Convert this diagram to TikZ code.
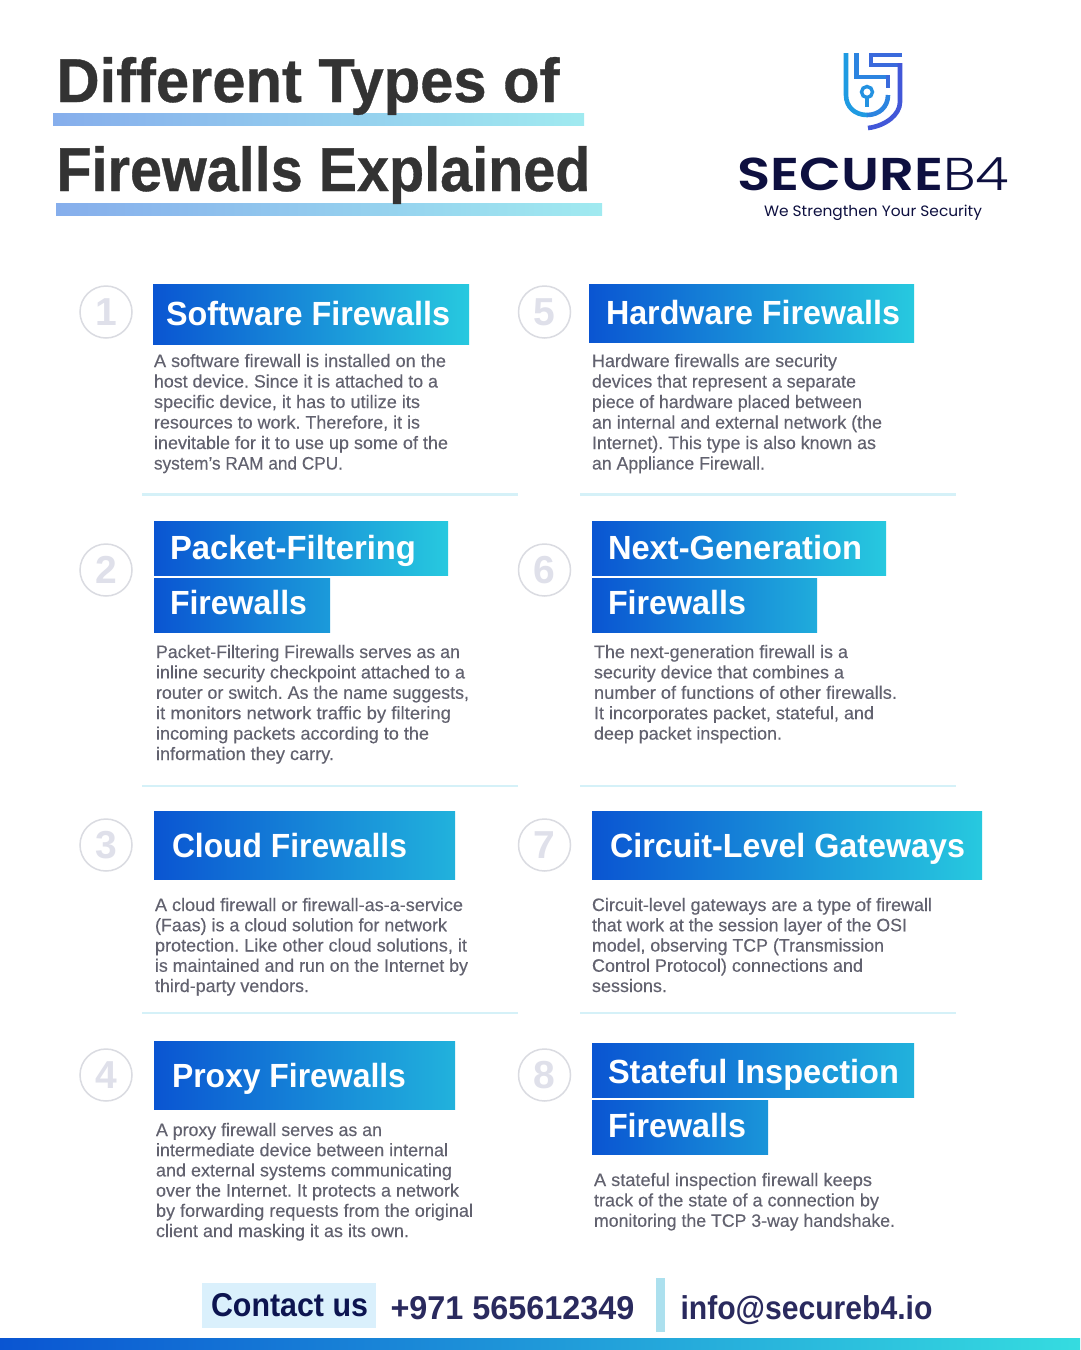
\documentclass[tikz,border=0pt]{standalone}
\usepackage{fontspec}
\usepackage{graphicx}
\setmainfont{Liberation Sans}
\newfontfamily\medf[FakeBold=0.25]{Liberation Sans}
\newfontfamily\boldf{Liberation Sans Bold}
\newfontfamily\titlef[FakeBold=0.6]{Liberation Sans Bold}
\newfontfamily\logobold{Poppins SemiBold}
\newfontfamily\logolight{Poppins Light}
\newfontfamily\logoreg{Poppins}
\definecolor{gradL}{HTML}{0A55D2}
\definecolor{gradR}{HTML}{27C9DF}
\definecolor{bodyc}{HTML}{62626F}
\definecolor{ringc}{HTML}{DADBE1}
\definecolor{digitc}{HTML}{DFE0EA}
\definecolor{rulec}{HTML}{D5F1F8}
\definecolor{navy}{HTML}{0E1040}
\definecolor{titlec}{HTML}{333333}
\definecolor{ulL}{HTML}{86AEEC}
\definecolor{ulR}{HTML}{A0EAF0}
\definecolor{chipc}{HTML}{DAF0FC}
\definecolor{contactc}{HTML}{0C1450}
\definecolor{phonec}{HTML}{2A2A5E}
\definecolor{sepc}{HTML}{ACE0EE}
\definecolor{footR}{HTML}{35DCE0}
\definecolor{la}{HTML}{1F9BE2}
\definecolor{lb}{HTML}{2C84E0}
\definecolor{lc}{HTML}{3A6ADC}
\definecolor{ld}{HTML}{4257D8}
\newcommand\fitw[2]{\resizebox{#1pt}{\height}{#2}}
\tikzset{
 txt/.style={inner sep=0pt,outer sep=0pt,anchor=base west},
 ring/.style={circle,draw=ringc,line width=1.5pt,minimum size=52pt,inner sep=0pt,fill=white,text=digitc,font=\boldf\fontsize{39}{39}\selectfont},
 divline/.style={rulec,line width=2.5pt},
 head/.style={txt,text=white,font=\boldf\fontsize{33.5}{33.5}\selectfont},
 bodyblock/.style={inner sep=0pt,outer sep=0pt,anchor=north west,align=left,text=bodyc,font=\medf\fontsize{18}{#1}\selectfont\frenchspacing},
 ulogo/.style={line width=4.6pt,line cap=butt,line join=miter},
 titletxt/.style={txt,text=titlec,font=\titlef\fontsize{62}{62}\selectfont},
 contacttxt/.style={txt,font=\boldf\fontsize{33}{33}\selectfont}
}
\newcommand\bluebar[4]{\shade[left color=gradL,right color=gradR] (#1,#2) rectangle (#3,#4);}
\newcommand\headtext[5]{\node[head] (#1) at (#2,#3-1) {\fitw{#4}{#5}};}
\newcommand\bodytext[5]{\node[bodyblock=#4] (#1) at (#2,#3-14) {\rule{0pt}{14pt}#5};}
\begin{document}
\begin{tikzpicture}[x=1pt,y=-1pt]
\useasboundingbox (0,0) rectangle (1080,1350);
\fill[white] (0,0) rectangle (1080,1350);
% title underlines
\shade[left color=ulL,right color=ulR] (53,113) rectangle (584,125);
\shade[left color=ulL,right color=ulR] (56,203) rectangle (602,215);
\node[titletxt] (t1) at (56.5,102) {\fitw{503}{Different Types of}};
\node[titletxt] (t2) at (56.5,191) {\fitw{534}{Firewalls Explained}};
% logo
\draw[ulogo,la] (846,53) -- (846,95) .. controls (846,107) and (855,115) .. (867,115);
\draw[ulogo,lb] (867,115) .. controls (879,115) and (888,107) .. (888,95);
\draw[ulogo,lb] (856.7,53) -- (856.7,77) -- (888,77);
\draw[ulogo,lc] (888,75) -- (888,88);
\draw[ulogo,lc] (902,55) -- (871,55) -- (871,65) -- (900,65);
\draw[ulogo,ld] (900,63) -- (900,102) .. controls (900,115) and (885,126) .. (868,128);
\draw[la!60!lb,line width=3.4pt] (867,92) circle (5.5);
\draw[la!60!lb,line width=4pt] (867,97) -- (867,107);
\node[txt,text=navy,font=\logobold\fontsize{46}{46}\selectfont] (lg1) at (737.5,190) {\fitw{206}{SECURE}};
\node[txt,text=navy,font=\logolight\fontsize{46}{46}\selectfont] (lg2) at (943,190) {\fitw{66}{B4}};
\node[txt,text=navy,font=\logoreg\fontsize{15}{15}\selectfont] (lg3) at (764,216) {\fitw{218}{We Strengthen Your Security}};
% rings
\node[ring] (c1) at (106,312) {1};
\node[ring] (c5) at (544.5,312) {5};
\node[ring] (c2) at (106,570) {2};
\node[ring] (c6) at (544.5,570) {6};
\node[ring] (c3) at (106,845) {3};
\node[ring] (c7) at (544.5,845) {7};
\node[ring] (c4) at (106,1075) {4};
\node[ring] (c8) at (544.5,1075) {8};
% bars
\bluebar{153}{284}{469}{344}
\bluebar{589}{284}{914}{342}
\bluebar{154}{521}{448}{575}
\shade[left color=gradL,right color=gradR!60!gradL] (154,578) rectangle (330,632);
\bluebar{592}{521}{886}{575}
\shade[left color=gradL,right color=gradR!75!gradL] (592,578) rectangle (817,632);
\shade[left color=gradL,right color=gradR!80!gradL] (154,811) rectangle (455,879);
\bluebar{592}{811}{982}{879}
\shade[left color=gradL,right color=gradR!80!gradL] (154,1041) rectangle (455,1109);
\shade[left color=gradL,right color=gradR!80!gradL] (592,1043) rectangle (914,1097);
\shade[left color=gradL,right color=gradR!55!gradL] (592,1100) rectangle (768,1154);
% heads
\headtext{h1}{166}{326}{284}{Software Firewalls}
\headtext{h5}{606}{325}{294}{Hardware Firewalls}
\headtext{h2a}{170}{560}{246}{Packet-Filtering}
\headtext{h2b}{170}{615}{137}{Firewalls}
\headtext{h6a}{608}{560}{254}{Next-Generation}
\headtext{h6b}{608}{615}{138}{Firewalls}
\headtext{h3}{172}{858}{235}{Cloud Firewalls}
\headtext{h7}{610}{858}{355}{Circuit-Level Gateways}
\headtext{h4}{172}{1088}{234}{Proxy Firewalls}
\headtext{h8a}{608}{1084}{291}{Stateful Inspection}
\headtext{h8b}{608}{1138}{138}{Firewalls}
% body
\bodytext{b1}{154}{367}{20.5}{\fitw{292}{A software firewall is installed on the}\\\fitw{284}{host device. Since it is attached to a}\\\fitw{266}{specific device, it has to utilize its}\\\fitw{266}{resources to work. Therefore, it is}\\\fitw{294}{inevitable for it to use up some of the}\\\fitw{189}{system’s RAM and CPU.}}
\bodytext{b5}{592}{367}{20.5}{\fitw{245}{Hardware firewalls are security}\\\fitw{264}{devices that represent a separate}\\\fitw{270}{piece of hardware placed between}\\\fitw{290}{an internal and external network (the}\\\fitw{284}{Internet). This type is also known as}\\\fitw{173}{an Appliance Firewall.}}
\bodytext{b2}{156}{658}{20.4}{\fitw{304}{Packet-Filtering Firewalls serves as an}\\\fitw{309}{inline security checkpoint attached to a}\\\fitw{313}{router or switch. As the name suggests,}\\\fitw{295}{it monitors network traffic by filtering}\\\fitw{273}{incoming packets according to the}\\\fitw{178}{information they carry.}}
\bodytext{b6}{594}{658}{20.4}{\fitw{254}{The next-generation firewall is a}\\\fitw{250}{security device that combines a}\\\fitw{303}{number of functions of other firewalls.}\\\fitw{280}{It incorporates packet, stateful, and}\\\fitw{188}{deep packet inspection.}}
\bodytext{b3}{155}{911}{20.25}{\fitw{308}{A cloud firewall or firewall-as-a-service}\\\fitw{292}{(Faas) is a cloud solution for network}\\\fitw{312}{protection. Like other cloud solutions, it}\\\fitw{313}{is maintained and run on the Internet by}\\\fitw{154}{third-party vendors.}}
\bodytext{b7}{592}{911}{20.25}{\fitw{340}{Circuit-level gateways are a type of firewall}\\\fitw{315}{that work at the session layer of the OSI}\\\fitw{292}{model, observing TCP (Transmission}\\\fitw{271}{Control Protocol) connections and}\\\fitw{75}{sessions.}}
\bodytext{b4}{156}{1136}{20.2}{\fitw{226}{A proxy firewall serves as an}\\\fitw{292}{intermediate device between internal}\\\fitw{296}{and external systems communicating}\\\fitw{303}{over the Internet. It protects a network}\\\fitw{317}{by forwarding requests from the original}\\\fitw{253}{client and masking it as its own.}}
\bodytext{b8}{594}{1186}{20.4}{\fitw{278}{A stateful inspection firewall keeps}\\\fitw{285}{track of the state of a connection by}\\\fitw{301}{monitoring the TCP 3-way handshake.}}
% dividers
\draw[divline,line width=3pt] (142,494.5) -- (518,494.5);
\draw[divline,line width=3pt] (580,494.5) -- (956,494.5);
\draw[divline] (142,786) -- (518,786);
\draw[divline] (580,786) -- (956,786);
\draw[divline] (142,1013) -- (518,1013);
\draw[divline] (580,1013) -- (956,1013);
% contact
\fill[chipc] (202,1283) rectangle (376,1328);
\node[contacttxt,text=contactc] (k1) at (211,1316) {\fitw{157}{Contact us}};
\node[contacttxt,text=phonec] (k2) at (390.5,1319) {\fitw{244}{+971 565612349}};
\fill[sepc] (656,1278) rectangle (665,1332);
\node[contacttxt,text=phonec] (k3) at (680.5,1319) {\fitw{252}{info@secureb4.io}};
\shade[left color=gradL,right color=footR] (0,1338) rectangle (1080,1350);
\end{tikzpicture}
\end{document}
